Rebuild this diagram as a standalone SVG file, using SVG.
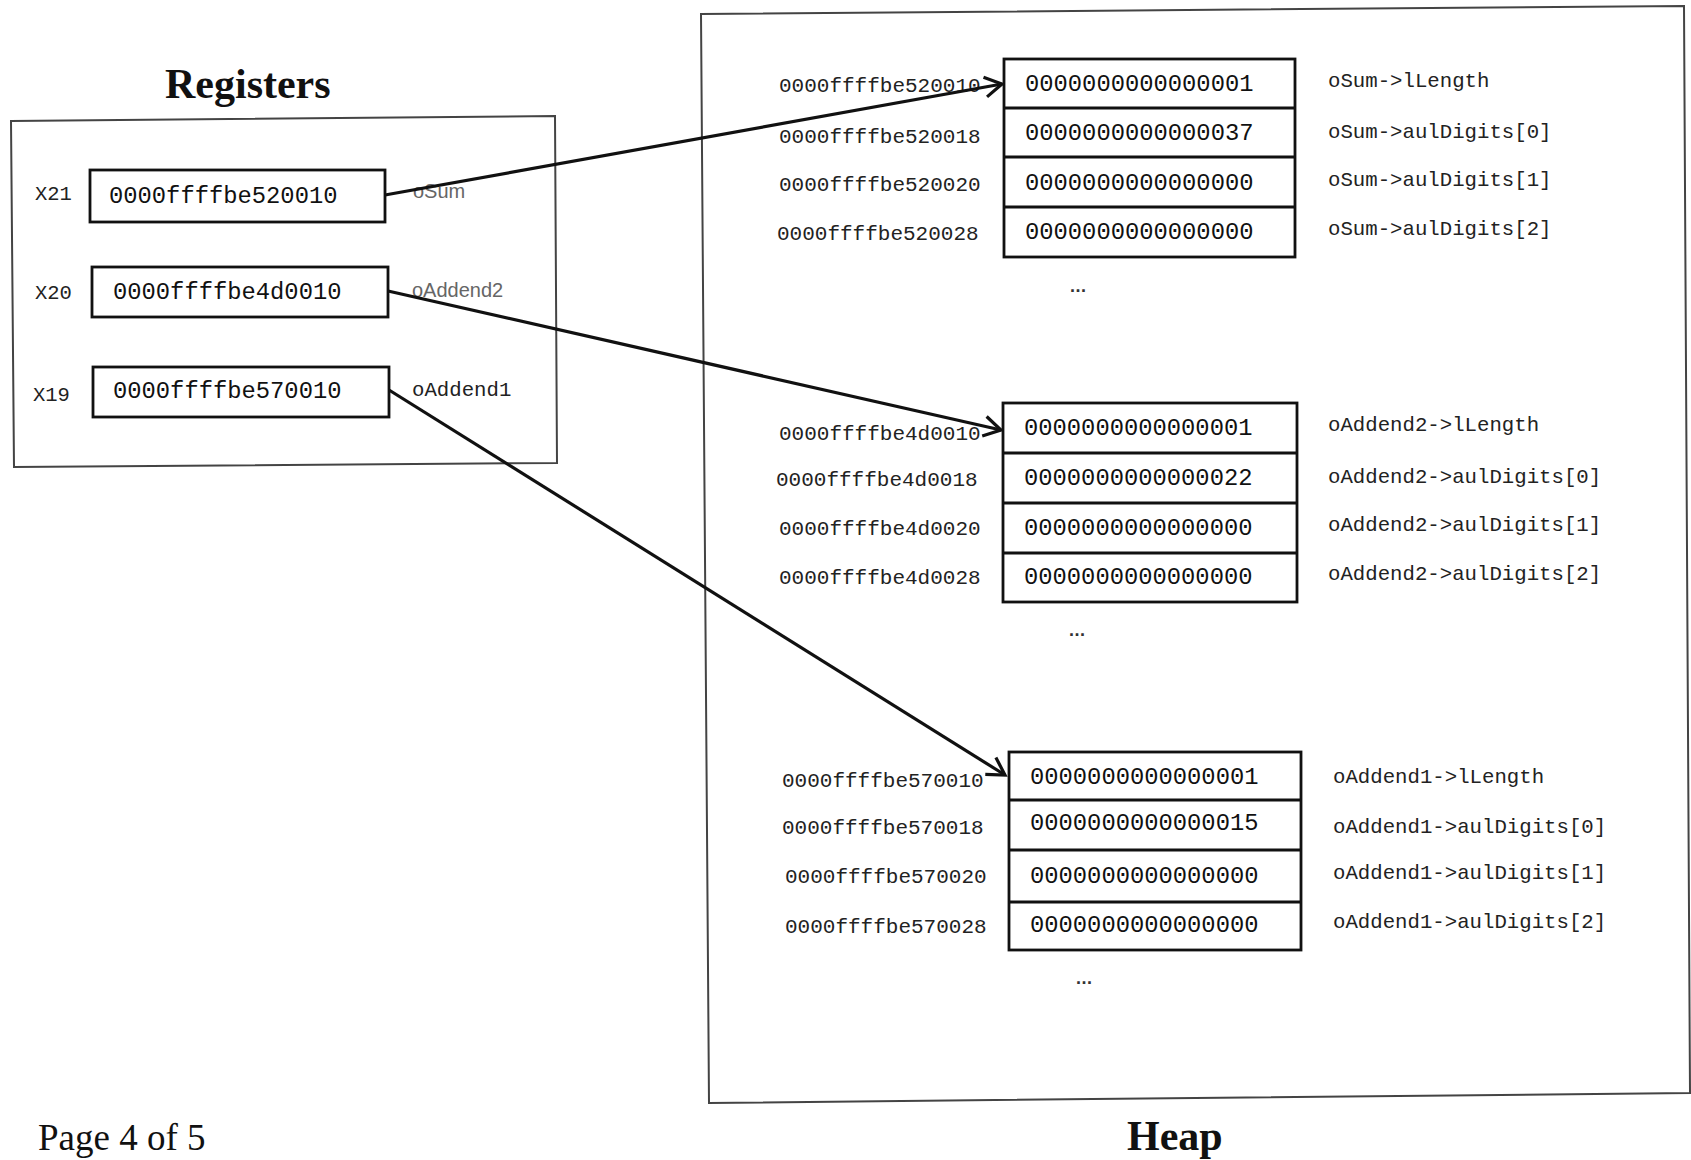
<svg xmlns="http://www.w3.org/2000/svg" width="1691" height="1160" viewBox="0 0 1691 1160">
<style>
.title{font-family:"Liberation Serif","Times New Roman",serif;font-weight:bold;font-size:42px;fill:#111}
.page{font-family:"Liberation Serif","Times New Roman",serif;font-size:37px;fill:#111}
.frame{fill:none;stroke:#444;stroke-width:2}
.box{fill:#fff;stroke:#111;stroke-width:2.8}
.div{stroke:#111;stroke-width:3}
.reg{font-family:"Liberation Mono","Courier New",monospace;font-size:20.5px;fill:#222}
.val{font-family:"Liberation Mono","Courier New",monospace;font-size:23.8px;fill:#111}
.addr{font-family:"Liberation Mono","Courier New",monospace;font-size:21px;fill:#222}
.fld{font-family:"Liberation Mono","Courier New",monospace;font-size:20.7px;fill:#222}
.nm{font-family:"Liberation Sans",Arial,sans-serif;font-size:20px;fill:#666}
.dots{font-family:"Liberation Sans",Arial,sans-serif;font-size:18px;font-weight:bold;fill:#333;letter-spacing:0.5px;font-variant-ligatures:none}
.conn{fill:none;stroke:#111;stroke-width:3.2}
</style>
<defs>
<marker id="arr" markerUnits="userSpaceOnUse" markerWidth="24" markerHeight="24" viewBox="-20 -12 24 24" refX="0" refY="0" orient="auto">
<path d="M-17,-10 L0,0 L-17,10" fill="none" stroke="#111" stroke-width="3.2"/>
</marker>
</defs>
<rect width="1691" height="1160" fill="#fff"/>

<g id="registers">
<text class="title" x="165" y="98">Registers</text>
<path class="frame" d="M11,121 L555,116 L557,463 L14,467 Z"/>
</g>

<g id="heap">
<path class="frame" d="M701,14 L1684,6 L1690,1093 L709,1103 Z"/>
<text class="title" x="1127" y="1150">Heap</text>
</g>

<g id="page-label">
<text class="page" x="38" y="1150">Page 4 of 5</text>
</g>

<g id="reg-x21">
<text class="reg" x="35" y="200">X21</text>
<rect class="box" x="90" y="170" width="295" height="52"/>
<text class="val" x="109" y="203">0000ffffbe520010</text>
<text class="nm" x="413" y="198">oSum</text>
</g>
<g id="reg-x20">
<text class="reg" x="35" y="299">X20</text>
<rect class="box" x="92" y="267" width="296" height="50"/>
<text class="val" x="113" y="299">0000ffffbe4d0010</text>
<text class="nm" x="412" y="297">oAddend2</text>
</g>
<g id="reg-x19">
<text class="reg" x="33" y="401">X19</text>
<rect class="box" x="93" y="367" width="296" height="50"/>
<text class="val" x="113" y="398">0000ffffbe570010</text>
<text class="fld" x="412" y="396">oAddend1</text>
</g>

<g id="heap-osum">
<rect class="box" x="1004" y="59" width="291" height="198"/>
<line class="div" x1="1004" y1="108" x2="1295" y2="108"/>
<line class="div" x1="1004" y1="157" x2="1295" y2="157"/>
<line class="div" x1="1004" y1="207" x2="1295" y2="207"/>
<text class="val" x="1025" y="91">0000000000000001</text>
<text class="val" x="1025" y="140">0000000000000037</text>
<text class="val" x="1025" y="190">0000000000000000</text>
<text class="val" x="1025" y="239">0000000000000000</text>
<text class="addr" x="779" y="92">0000ffffbe520010</text>
<text class="addr" x="779" y="143">0000ffffbe520018</text>
<text class="addr" x="779" y="191">0000ffffbe520020</text>
<text class="addr" x="777" y="240">0000ffffbe520028</text>
<text class="fld" x="1328" y="87">oSum-&gt;lLength</text>
<text class="fld" x="1328" y="138">oSum-&gt;aulDigits[0]</text>
<text class="fld" x="1328" y="186">oSum-&gt;aulDigits[1]</text>
<text class="fld" x="1328" y="235">oSum-&gt;aulDigits[2]</text>
<text class="dots" x="1070" y="292">...</text>
</g>

<g id="heap-oaddend2">
<rect class="box" x="1003" y="403" width="294" height="199"/>
<line class="div" x1="1003" y1="453" x2="1297" y2="453"/>
<line class="div" x1="1003" y1="503" x2="1297" y2="503"/>
<line class="div" x1="1003" y1="553" x2="1297" y2="553"/>
<text class="val" x="1024" y="435">0000000000000001</text>
<text class="val" x="1024" y="485">0000000000000022</text>
<text class="val" x="1024" y="535">0000000000000000</text>
<text class="val" x="1024" y="584">0000000000000000</text>
<text class="addr" x="779" y="440">0000ffffbe4d0010</text>
<text class="addr" x="776" y="486">0000ffffbe4d0018</text>
<text class="addr" x="779" y="535">0000ffffbe4d0020</text>
<text class="addr" x="779" y="584">0000ffffbe4d0028</text>
<text class="fld" x="1328" y="431">oAddend2-&gt;lLength</text>
<text class="fld" x="1328" y="483">oAddend2-&gt;aulDigits[0]</text>
<text class="fld" x="1328" y="531">oAddend2-&gt;aulDigits[1]</text>
<text class="fld" x="1328" y="580">oAddend2-&gt;aulDigits[2]</text>
<text class="dots" x="1069" y="636">...</text>
</g>

<g id="heap-oaddend1">
<rect class="box" x="1009" y="752" width="292" height="198"/>
<line class="div" x1="1009" y1="800" x2="1301" y2="800"/>
<line class="div" x1="1009" y1="850" x2="1301" y2="850"/>
<line class="div" x1="1009" y1="902" x2="1301" y2="902"/>
<text class="val" x="1030" y="784">0000000000000001</text>
<text class="val" x="1030" y="830">0000000000000015</text>
<text class="val" x="1030" y="883">0000000000000000</text>
<text class="val" x="1030" y="932">0000000000000000</text>
<text class="addr" x="782" y="787">0000ffffbe570010</text>
<text class="addr" x="782" y="834">0000ffffbe570018</text>
<text class="addr" x="785" y="883">0000ffffbe570020</text>
<text class="addr" x="785" y="933">0000ffffbe570028</text>
<text class="fld" x="1333" y="783">oAddend1-&gt;lLength</text>
<text class="fld" x="1333" y="833">oAddend1-&gt;aulDigits[0]</text>
<text class="fld" x="1333" y="879">oAddend1-&gt;aulDigits[1]</text>
<text class="fld" x="1333" y="928">oAddend1-&gt;aulDigits[2]</text>
<text class="dots" x="1076" y="984">...</text>
</g>

<g id="connectors">
<line class="conn" x1="385" y1="195" x2="1002" y2="84" marker-end="url(#arr)"/>
<line class="conn" x1="388" y1="291" x2="1001" y2="430" marker-end="url(#arr)"/>
<line class="conn" x1="389" y1="390" x2="1005" y2="775" marker-end="url(#arr)"/>
</g>
</svg>
